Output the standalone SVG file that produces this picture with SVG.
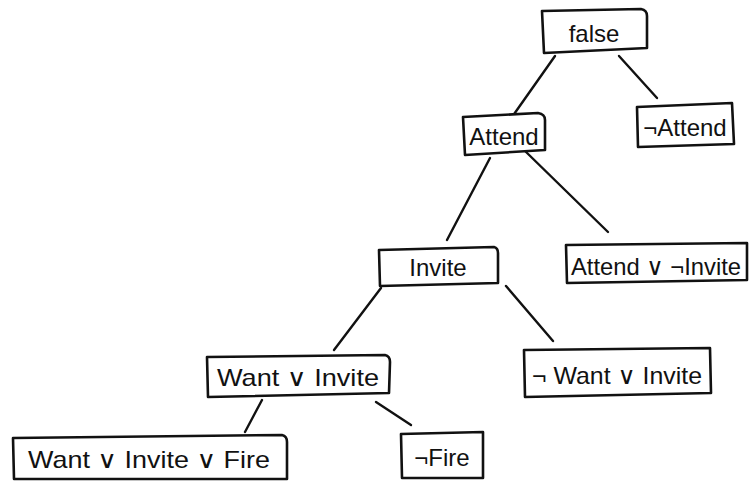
<svg xmlns="http://www.w3.org/2000/svg" width="749" height="481" viewBox="0 0 749 481">
<style>
.box{fill:#fff;stroke:#111;stroke-width:2.6;stroke-linejoin:round}
.lbl{font-family:"Liberation Sans","DejaVu Sans",sans-serif;font-size:24px;fill:#111;text-anchor:middle}
.edge{stroke:#111;stroke-width:2.4;fill:none;stroke-linecap:round}
</style>
<rect width="749" height="481" fill="#fff"/>
<g id="connectors">
<line class="edge" x1="555" y1="56" x2="512" y2="117"/>
<line class="edge" x1="619" y1="56" x2="657" y2="98"/>
<line class="edge" x1="490" y1="158" x2="447" y2="240"/>
<line class="edge" x1="524" y1="150" x2="608" y2="232"/>
<line class="edge" x1="381" y1="288" x2="334" y2="350"/>
<line class="edge" x1="506" y1="286" x2="553" y2="341"/>
<line class="edge" x1="262" y1="400" x2="245" y2="432"/>
<line class="edge" x1="376" y1="402" x2="411" y2="425"/>
</g>
<g id="n-false">
<path class="box" d="M542 11 L641 9 Q647 10 647 16 L647 48 L544 53 Z"/>
<text class="lbl" x="594" y="42" font-size="28">false</text>
</g>
<g id="n-notattend">
<path class="box" d="M637 107 L732 103 L734 144 L638 147 Z"/>
<text class="lbl" x="685" y="136">¬Attend</text>
</g>
<g id="n-attend">
<path class="box" d="M463 117 L538 113 Q545 114 545 120 L545 150 L465 155 Z"/>
<text class="lbl" x="504" y="145">Attend</text>
</g>
<g id="n-invite">
<path class="box" d="M379 250 L494 247 Q498 248 498 253 L498 283 L380 286 Z"/>
<text class="lbl" x="438" y="276">Invite</text>
</g>
<g id="n-attendnotinvite">
<path class="box" d="M566 245 L747 243 L747 280 L567 283 Z"/>
<text class="lbl" x="656" y="275" textLength="170" lengthAdjust="spacingAndGlyphs">Attend ∨ ¬Invite</text>
</g>
<g id="n-notwantinvite">
<path class="box" d="M524 350 L710 348 L711 393 L525 397 Z"/>
<text class="lbl" x="617" y="384" textLength="170" lengthAdjust="spacingAndGlyphs">¬ Want ∨ Invite</text>
</g>
<g id="n-wantinvite">
<path class="box" d="M207 357 L385 355 Q390 356 390 362 L389 393 L208 397 Z"/>
<text class="lbl" x="298" y="386" textLength="162" lengthAdjust="spacingAndGlyphs">Want ∨ Invite</text>
</g>
<g id="n-wantinvitefire">
<path class="box" d="M13 438 L282 435 Q287 436 287 442 L287 479 L14 479 Z"/>
<text class="lbl" x="149" y="468" textLength="242" lengthAdjust="spacingAndGlyphs">Want ∨ Invite ∨ Fire</text>
</g>
<g id="n-notfire">
<path class="box" d="M401 434 L483 432 L483 478 L402 478 Z"/>
<text class="lbl" x="442" y="466">¬Fire</text>
</g>
</svg>
